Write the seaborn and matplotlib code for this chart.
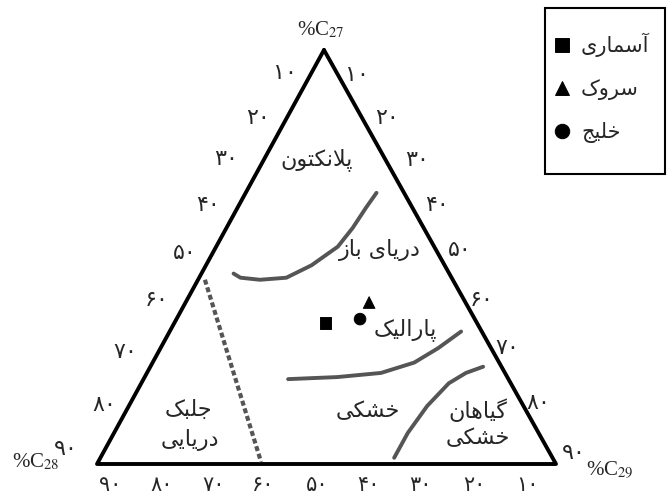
import numpy as np
import pandas as pd
import matplotlib
matplotlib.use("Agg")
import matplotlib.pyplot as plt
from matplotlib.patches import Rectangle
import seaborn as sns

# ---------------------------------------------------------------- data
# Sterane distribution (C27 / C28 / C29, percent)
samples = ["آسماری", "سروک", "خلیج"]
c27_samples = [34, 39, 35]
c28_samples = [33, 21, 25]
c29_samples = [33, 40, 40]

# Environment boundaries, given as C27 and C29 percentages (C28 is the rest)
open_sea_c27 = [46, 45, 44.5, 45, 48, 52.5, 57, 62, 65.5]
open_sea_c29 = [7, 9, 13.5, 19, 23, 26.5, 27.5, 28, 28.5]
paralic_c27 = [20.5, 21, 22, 24.5, 28, 32]
paralic_c29 = [31.5, 42, 51, 57, 60.5, 63.5]
land_c27 = [1.5, 7.5, 14, 19.5, 22, 23.5]
land_c29 = [64, 64, 65, 67, 69.5, 72.5]
algae_c27 = [44.5, 0.5]
algae_c29 = [1.5, 35.5]

# Field names
field_names = ["پلانکتون", "دریای باز", "پارالیک", "خشکی", "گیاهان", "خشکی", "جلبک", "دریایی"]

# Axis tick labels (Persian digits)
left_ticks = ["۱۰", "۲۰", "۳۰", "۴۰", "۵۰", "۶۰", "۷۰", "۸۰", "۹۰"]
right_ticks = ["۱۰", "۲۰", "۳۰", "۴۰", "۵۰", "۶۰", "۷۰", "۸۰", "۹۰"]
bottom_ticks = ["۹۰", "۸۰", "۷۰", "۶۰", "۵۰", "۴۰", "۳۰", "۲۰", "۱۰"]

corner_titles = [r"%C$_{27}$", r"%C$_{28}$", r"%C$_{29}$"]

# ---------------------------------------------------------------- Persian shaping
FORMS = {
    "\u0622": ("\uFE81", "\uFE82", None, None),
    "\u0627": ("\uFE8D", "\uFE8E", None, None),
    "\u0628": ("\uFE8F", "\uFE90", "\uFE91", "\uFE92"),
    "\u067E": ("\uFB56", "\uFB57", "\uFB58", "\uFB59"),
    "\u062A": ("\uFE95", "\uFE96", "\uFE97", "\uFE98"),
    "\u062C": ("\uFE9D", "\uFE9E", "\uFE9F", "\uFEA0"),
    "\u062E": ("\uFEA5", "\uFEA6", "\uFEA7", "\uFEA8"),
    "\u062F": ("\uFEA9", "\uFEAA", None, None),
    "\u0631": ("\uFEAD", "\uFEAE", None, None),
    "\u0632": ("\uFEAF", "\uFEB0", None, None),
    "\u0633": ("\uFEB1", "\uFEB2", "\uFEB3", "\uFEB4"),
    "\u0634": ("\uFEB5", "\uFEB6", "\uFEB7", "\uFEB8"),
    "\u06A9": ("\uFB8E", "\uFB8F", "\uFB90", "\uFB91"),
    "\u06AF": ("\uFB92", "\uFB93", "\uFB94", "\uFB95"),
    "\u0644": ("\uFEDD", "\uFEDE", "\uFEDF", "\uFEE0"),
    "\u0645": ("\uFEE1", "\uFEE2", "\uFEE3", "\uFEE4"),
    "\u0646": ("\uFEE5", "\uFEE6", "\uFEE7", "\uFEE8"),
    "\u0647": ("\uFEE9", "\uFEEA", "\uFEEB", "\uFEEC"),
    "\u0648": ("\uFEED", "\uFEEE", None, None),
    "\u06CC": ("\uFBFC", "\uFBFD", "\uFBFE", "\uFBFF"),
    "LA": ("\uFEFB", "\uFEFC", None, None),
    "LAA": ("\uFEF5", "\uFEF6", None, None),
}


def shape(text):
    """Contextual letter forms + right-to-left visual order for matplotlib."""
    tokens, i = [], 0
    while i < len(text):
        ch = text[i]
        if ch == "\u0644" and i + 1 < len(text) and text[i + 1] in ("\u0627", "\u0622"):
            tokens.append("LA" if text[i + 1] == "\u0627" else "LAA")
            i += 2
        else:
            tokens.append(ch)
            i += 1

    def dual(t):
        return t in FORMS and FORMS[t][2] is not None

    out = []
    for k, t in enumerate(tokens):
        if t not in FORMS:
            out.append(t)
            continue
        join_prev = k > 0 and dual(tokens[k - 1])
        join_next = dual(t) and k + 1 < len(tokens) and tokens[k + 1] in FORMS
        iso, fin, ini, med = FORMS[t]
        if join_prev and join_next:
            out.append(med)
        elif join_prev:
            out.append(fin)
        elif join_next:
            out.append(ini)
        else:
            out.append(iso)
    return "".join(reversed(out))


# ---------------------------------------------------------------- layout
W, H = 669, 496
TOP, LEFT, RIGHT = (324, 50), (97, 464), (556, 464)


def tern(c27, c29):
    c27 = np.asarray(c27, float) / 100
    c29 = np.asarray(c29, float) / 100
    c28 = 1 - c27 - c29
    x = c27 * TOP[0] + c28 * LEFT[0] + c29 * RIGHT[0]
    y = c27 * TOP[1] + c28 * LEFT[1] + c29 * RIGHT[1]
    return x, y


sns.set_theme(style="white")
plt.rcParams["font.family"] = ["DejaVu Sans"]
plt.rcParams["mathtext.fontset"] = "stix"

fig = plt.figure(figsize=(W / 100, H / 100), dpi=100)
ax = fig.add_axes([0, 0, 1, 1])
ax.set_xlim(0, W)
ax.set_ylim(H, 0)
ax.axis("off")

# triangle frame
fx, fy = tern([100, 0, 0, 100], [0, 0, 100, 0])
sns.lineplot(x=fx, y=fy, sort=False, estimator=None, color="black", lw=2.8, ax=ax)

# boundaries
grey = "#555555"
for c27, c29 in [(open_sea_c27, open_sea_c29), (paralic_c27, paralic_c29), (land_c27, land_c29)]:
    bx, by = tern(c27, c29)
    sns.lineplot(x=bx, y=by, sort=False, estimator=None, color=grey, lw=2.8,
                 solid_capstyle="round", solid_joinstyle="round", ax=ax)
ax_, ay_ = tern(algae_c27, algae_c29)
ax.plot(ax_, ay_, color=grey, lw=3.0, dashes=(1.2, 0.7))

# samples
sx, sy = tern(c27_samples, c29_samples)
df = pd.DataFrame({"x": sx, "y": sy, "sample": samples})
sns.scatterplot(data=df, x="x", y="y", style="sample", style_order=samples,
                markers={"آسماری": "s", "سروک": "^", "خلیج": "o"},
                color="black", s=70, edgecolor="black", ax=ax, legend=True)

# legend box
ax.add_patch(Rectangle((545, 8), 120, 166, fill=False, edgecolor="black", lw=1.5))
handles, labels = ax.get_legend_handles_labels()
leg = ax.legend(handles, [shape(l) for l in labels], loc="upper left",
                bbox_to_anchor=(553 / W, 1 - 33 / H), bbox_transform=fig.transFigure,
                frameon=False, fontsize=15, labelspacing=1.05, borderpad=0,
                handletextpad=0.45, markerscale=1.25, handlelength=0.9, borderaxespad=0)
ax.set_xlabel("")
ax.set_ylabel("")

# field names
name_pos = [(317, 160), (380, 250), (405, 330), (368, 411), (478, 410), (478, 438), (188, 410), (190, 440)]
for name, (x, y) in zip(field_names, name_pos):
    ax.text(x, y, shape(name), ha="center", va="center", fontsize=16)

# tick labels
left_pos = [(285, 73), (258, 118), (226, 159), (208, 205), (185, 253), (157, 300), (125, 352), (104, 405), (66, 449)]
right_pos = [(357, 75), (387, 118), (417, 160), (437, 205), (460, 250), (482, 300), (507, 348), (538, 403), (574, 453)]
for labs, pos in [(left_ticks, left_pos), (right_ticks, right_pos)]:
    for lab, (x, y) in zip(labs, pos):
        ax.text(x, y, lab, ha="center", va="center", fontsize=16)
bottom_x = [110, 162, 214, 263, 317, 368, 420, 474, 527]
for lab, x in zip(bottom_ticks, bottom_x):
    ax.text(x, 495, lab, ha="center", va="bottom", fontsize=15)

# corner titles
for t, (x, y) in zip(corner_titles, [(321, 30), (36, 462), (610, 470)]):
    ax.text(x, y, t, ha="center", va="center", fontsize=15, family="Liberation Serif")

fig.savefig("out.png", dpi=100)
